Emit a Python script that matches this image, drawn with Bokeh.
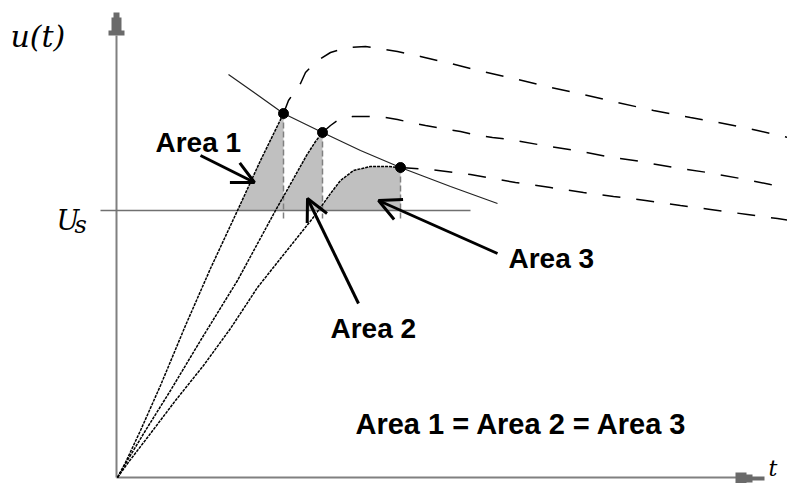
import numpy as np
from bokeh.plotting import figure
from bokeh.models import Range1d, Arrow, OpenHead
from bokeh.core.properties import value
from bokeh.embed import file_html
from bokeh.resources import INLINE

# ---- diagram data (page-pixel coordinates, y downward) ----
us_level = 210
us_line_x = [100, 470]
yaxis_x = 116
yaxis_y = [35, 477]
xaxis_y = 477
xaxis_x = [116, 736]

curve1_x = [117, 125, 140, 160, 185, 210, 237, 260, 283]
curve1_y = [477, 462, 430, 385, 325, 268, 210, 160, 113]
curve2_x = [117, 125, 145, 170, 200, 237, 275, 292, 306, 315, 322]
curve2_y = [477, 463, 430, 390, 340, 280, 210, 180, 155, 141, 132]
curve3_x = [117, 127, 150, 175, 203, 230, 257, 280, 300, 312, 320, 330, 340, 353, 370, 387, 400]
curve3_y = [477, 463, 433, 400, 365, 328, 287, 258, 233, 218, 207, 193, 180, 170, 166, 166, 167]

cont1_x = [283, 288, 300, 305, 317, 330, 347, 365, 397, 420, 450, 482, 513, 550, 583, 617, 653, 690, 723, 757, 783, 803]
cont1_y = [113, 100, 83, 72, 60, 52, 47, 46, 51, 56, 63, 71, 78, 87, 94, 102, 110, 117, 123, 130, 136, 140]
cont2_x = [322, 330, 337, 352, 368, 385, 397, 410, 425, 442, 460, 473, 492, 510, 543, 575, 607, 640, 673, 707, 740, 770, 803]
cont2_y = [132, 125, 120, 116, 116, 117, 119, 122, 125, 128, 131, 134, 137, 139, 145, 150, 156, 161, 167, 172, 178, 184, 190]
cont3_x = [400, 430, 470, 515, 550, 583, 613, 645, 680, 710, 747, 777, 803]
cont3_y = [167, 169, 174, 182, 187, 192, 196, 200, 205, 209, 214, 218, 222]

limit_x = [228, 255, 283, 322, 360, 400, 450, 497]
limit_y = [74, 93, 113, 132, 150, 167, 186, 203]

dots_x = [283, 322, 400]
dots_y = [113, 132, 167]
drop_bottom = 218

labels = ["Area 1", "Area 2", "Area 3"]
label_x = [155, 330, 508]
label_y = [142, 328, 258]
arrow_tail_x = [200, 358, 497]
arrow_tail_y = [155, 303, 253]
arrow_tip_x = [254, 307, 378]
arrow_tip_y = [182, 198, 200]

equation = "Area 1 = Area 2 = Area 3"

yhead_x = [113, 119, 119, 121, 121, 124, 124, 108, 108, 111, 111, 113]
yhead_y = [12, 12, 17, 17, 30, 30, 35, 35, 30, 30, 17, 17]
xhead_x = [764, 764, 752, 752, 746, 746, 735, 735, 746, 746, 752, 752]
xhead_y = [476, 480, 480, 482, 482, 484, 484, 472, 472, 474, 474, 476]

# ---- figure ----
p = figure(width=787, height=483, output_backend="svg", toolbar_location=None,
           x_range=Range1d(0, 787), y_range=Range1d(483, 0),
           x_axis_type=None, y_axis_type=None, min_border=0)
p.outline_line_color = None
p.background_fill_color = "white"


def shaded(cx, cy, xr):
    cx = np.array(cx, float)
    cy = np.array(cy, float)
    x0 = np.interp(us_level, cy[::-1], cx[::-1])
    mask = cy < us_level
    px = [x0] + list(cx[mask]) + [xr]
    py = [us_level] + list(cy[mask]) + [us_level]
    return px, py


for cx, cy, xr in [(curve1_x, curve1_y, dots_x[0]),
                   (curve2_x, curve2_y, dots_x[1]),
                   (curve3_x, curve3_y, dots_x[2])]:
    px, py = shaded(cx, cy, xr)
    p.patch(px, py, fill_color="#c0c0c0", line_color=None)

# axes
p.line([yaxis_x, yaxis_x], yaxis_y, line_color="#808080", line_width=2)
p.line(xaxis_x, [xaxis_y, xaxis_y], line_color="#808080", line_width=2)
p.patch(yhead_x, yhead_y, fill_color="#6a6a6a", line_color=None)
p.patch(xhead_x, xhead_y, fill_color="#6a6a6a", line_color=None)

# U_s line
p.line(us_line_x, [us_level, us_level], line_color="#707070", line_width=1.6)

# vertical dashed drops
for dx, dy in zip(dots_x, dots_y):
    p.line([dx, dx], [dy, drop_bottom], line_color="#808080", line_width=1.5,
           line_dash="6 3")

# rising curves
for cx, cy in [(curve1_x, curve1_y), (curve2_x, curve2_y), (curve3_x, curve3_y)]:
    p.line(cx, cy, line_color="black", line_width=1.5, line_dash="3 1")

# dashed continuations
for cx, cy in [(cont1_x, cont1_y), (cont2_x, cont2_y), (cont3_x, cont3_y)]:
    p.line(cx, cy, line_color="black", line_width=1.5, line_dash="18 16")

# limit line
p.line(limit_x, limit_y, line_color="#222222", line_width=1.2)

# dots
p.scatter(dots_x, dots_y, size=10, color="black")

# arrows
for tx, ty, hx, hy in zip(arrow_tail_x, arrow_tail_y, arrow_tip_x, arrow_tip_y):
    p.add_layout(Arrow(x_start=tx, y_start=ty, x_end=hx, y_end=hy,
                       line_width=3, line_color="black",
                       end=OpenHead(size=22, line_width=3, line_color="black")))

# labels
p.text(label_x, label_y, text=labels, text_font=value("Liberation Sans"),
       text_font_style="bold", text_font_size="28px", text_baseline="alphabetic",
       text_color="black")
p.text([355], [423], text=[equation], text_font=value("Liberation Sans"),
       text_font_style="bold", text_font_size="29px", text_baseline="alphabetic",
       text_color="black")

p.text([10], [36], text=["u(t)"], text_font=value("DejaVu Serif"),
       text_font_style="italic", text_font_size="30px", text_baseline="alphabetic")
p.text([56], [220], text=["U"], text_font=value("DejaVu Serif"),
       text_font_style="italic", text_font_size="27px", text_baseline="alphabetic")
p.text([74], [224], text=["s"], text_font=value("DejaVu Serif"),
       text_font_style="italic", text_font_size="24px", text_baseline="alphabetic")
p.text([768], [468], text=["t"], text_font=value("DejaVu Serif"),
       text_font_style="italic", text_font_size="22px", text_baseline="alphabetic")

open("out.html", "w").write(file_html(p, INLINE))
